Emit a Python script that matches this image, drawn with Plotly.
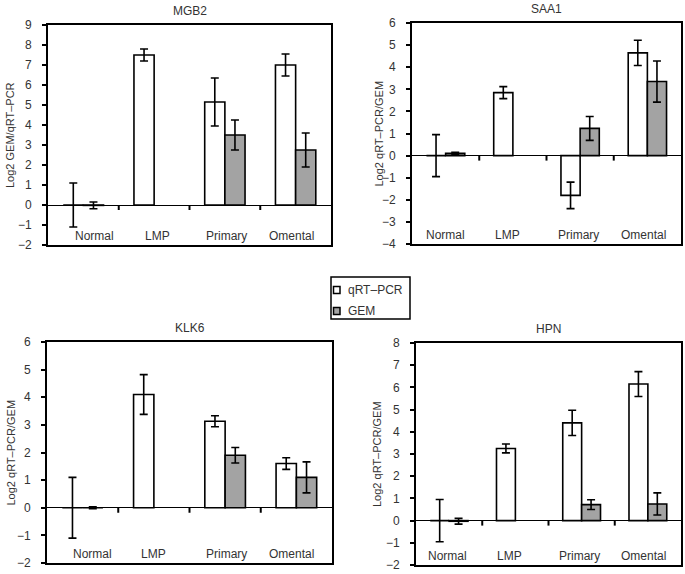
import plotly.graph_objects as go

categories = ["Normal", "LMP", "Primary", "Omental"]
genes = ["MGB2", "SAA1", "KLK6", "HPN"]
series_names = ["qRT\u2013PCR", "GEM"]

# qRT-PCR values / errors
mgb2_qrt = [0, 7.5, 5.15, 7.0]
mgb2_qrt_err = [1.1, 0.3, 1.2, 0.55]
saa1_qrt = [0, 2.85, -1.8, 4.65]
saa1_qrt_err = [0.95, 0.27, 0.6, 0.57]
klk6_qrt = [0, 4.1, 3.13, 1.6]
klk6_qrt_err = [1.1, 0.72, 0.2, 0.21]
hpn_qrt = [0, 3.25, 4.4, 6.15]
hpn_qrt_err = [0.95, 0.2, 0.57, 0.56]

# GEM values / errors
mgb2_gem = [-0.02, None, 3.5, 2.75]
mgb2_gem_err = [0.17, None, 0.75, 0.85]
saa1_gem = [0.1, None, 1.23, 3.35]
saa1_gem_err = [0.05, None, 0.54, 0.93]
klk6_gem = [0.0, None, 1.9, 1.1]
klk6_gem_err = [0.03, None, 0.28, 0.56]
hpn_gem = [-0.03, None, 0.72, 0.75]
hpn_gem_err = [0.13, None, 0.22, 0.5]

y_titles = ["Log2 GEM/qRT\u2013PCR", "Log2 qRT\u2013PCR/GEM",
            "Log2 qRT\u2013PCR/GEM", "Log2 qRT\u2013PCR/GEM"]
y_ranges = [[-2, 9], [-4, 6], [-2, 6], [-2, 8]]

qrt_all = [mgb2_qrt, saa1_qrt, klk6_qrt, hpn_qrt]
qrt_err_all = [mgb2_qrt_err, saa1_qrt_err, klk6_qrt_err, hpn_qrt_err]
gem_all = [mgb2_gem, saa1_gem, klk6_gem, hpn_gem]
gem_err_all = [mgb2_gem_err, saa1_gem_err, klk6_gem_err, hpn_gem_err]

W, H = 685, 574
# plot-area boxes in pixels (left, right, top, bottom)
boxes = [(48, 331, 25, 245), (412, 681, 23, 244),
         (47, 332, 342, 563), (416, 681, 343, 565)]
# x centre of each y-axis title (px)
ytitle_x = [10, 378, 10, 377]
# horizontal shifts of category labels per panel
label_shifts = [[11, 3, 2, -4], [0, -5, -2, -4], [10, 0, 1, -5], [-2, -6, -2, -4]]

FONT = "Liberation Sans, Arial, sans-serif"
TXT = "#333333"
GRAY = "#a3a3a3"
FILLS = ["white", GRAY]

fig = go.Figure()
xpos = list(range(len(categories)))

for i in range(4):
    xa = "x" if i == 0 else f"x{i+1}"
    ya = "y" if i == 0 else f"y{i+1}"
    fig.add_trace(go.Bar(
        x=xpos, y=qrt_all[i], name=series_names[0], xaxis=xa, yaxis=ya,
        marker=dict(color=FILLS[0], line=dict(color="black", width=1.6)),
        error_y=dict(type="data", array=qrt_err_all[i], color="black",
                     thickness=1.6, width=4),
        offsetgroup="a", showlegend=False))
    fig.add_trace(go.Bar(
        x=xpos, y=gem_all[i], name=series_names[1], xaxis=xa, yaxis=ya,
        marker=dict(color=FILLS[1], line=dict(color="black", width=1.6)),
        error_y=dict(type="data", array=gem_err_all[i], color="black",
                     thickness=1.6, width=4),
        offsetgroup="b", showlegend=False))

layout = dict(
    width=W, height=H, margin=dict(l=0, r=0, t=0, b=0, autoexpand=False),
    paper_bgcolor="white", plot_bgcolor="white",
    barmode="group", bargap=0.43, bargroupgap=0,
    font=dict(family=FONT, size=12, color=TXT),
    showlegend=False,
)
annotations = []
shapes = []
for i, (l, r, t, b) in enumerate(boxes):
    sx = "" if i == 0 else str(i + 1)
    layout[f"xaxis{sx}"] = dict(
        domain=[l / W, r / W], anchor=f"y{sx}", range=[-0.5, len(categories) - 0.5],
        showticklabels=False, ticks="", showgrid=False, zeroline=False,
        showline=True, linecolor="black", linewidth=2, mirror=True,
        automargin=False, fixedrange=True)
    layout[f"yaxis{sx}"] = dict(
        domain=[1 - b / H, 1 - t / H], anchor=f"x{sx}", range=y_ranges[i], dtick=1,
        showgrid=False, zeroline=True, zerolinecolor="black", zerolinewidth=1,
        showline=True, linecolor="black", linewidth=2, mirror=True,
        ticks="outside", ticklen=4, tickwidth=1.5, tickcolor="black",
        ticklabelstandoff=8,
        tickfont=dict(size=12, color=TXT),
        automargin=False, fixedrange=True)
    xref = f"x{sx}"
    yref = f"y{sx}"
    annotations.append(dict(
        text=y_titles[i], xref="paper", yref=f"{yref} domain",
        x=ytitle_x[i] / W, y=0.5, xanchor="center", yanchor="middle", textangle=-90,
        showarrow=False, font=dict(size=11, color=TXT)))
    annotations.append(dict(
        text=genes[i], xref=f"{xref} domain", yref=f"{yref} domain",
        x=0.5, y=1, xanchor="center", yanchor="bottom", yshift=5,
        showarrow=False, font=dict(size=12, color=TXT)))
    for k, c in enumerate(categories):
        annotations.append(dict(
            text=c, xref=xref, yref=f"{yref} domain", x=k, y=0.0,
            xanchor="center", yanchor="bottom", yshift=0, xshift=label_shifts[i][k],
            showarrow=False, font=dict(size=12, color=TXT)))
    for k in range(len(categories) - 1):
        shapes.append(dict(
            type="line", xref=xref, yref=yref, ysizemode="pixel", yanchor=0,
            x0=k + 0.5, x1=k + 0.5, y0=0, y1=-5,
            line=dict(color="black", width=2)))

# legend (drawn manually to match the compact original box)
lg_l, lg_r, lg_t, lg_b = 331, 410, 277, 319
shapes.append(dict(type="rect", xref="paper", yref="paper",
                   x0=lg_l / W, x1=lg_r / W, y0=1 - lg_b / H, y1=1 - lg_t / H,
                   line=dict(color="black", width=1.5), fillcolor="white", layer="above"))
row_y = [290, 311]
for name, fill, yc in zip(series_names, FILLS, row_y):
    shapes.append(dict(type="rect", xref="paper", yref="paper",
                       x0=(lg_l + 2.5) / W, x1=(lg_l + 9) / W,
                       y0=1 - (yc + 3.5) / H, y1=1 - (yc - 3.5) / H,
                       line=dict(color="black", width=1.5), fillcolor=fill, layer="above"))
    annotations.append(dict(text=name, xref="paper", yref="paper",
                            x=(lg_l + 15) / W, y=1 - yc / H, xanchor="left", yanchor="middle",
                            showarrow=False, font=dict(size=12, color=TXT)))

layout["annotations"] = annotations
layout["shapes"] = shapes
fig.update_layout(**layout)
fig.write_html(
    "out.html",
    config={"displayModeBar": False},
    post_script="document.body.style.margin='0';document.body.style.padding='0';"
                "document.documentElement.style.overflow='hidden';",
)
